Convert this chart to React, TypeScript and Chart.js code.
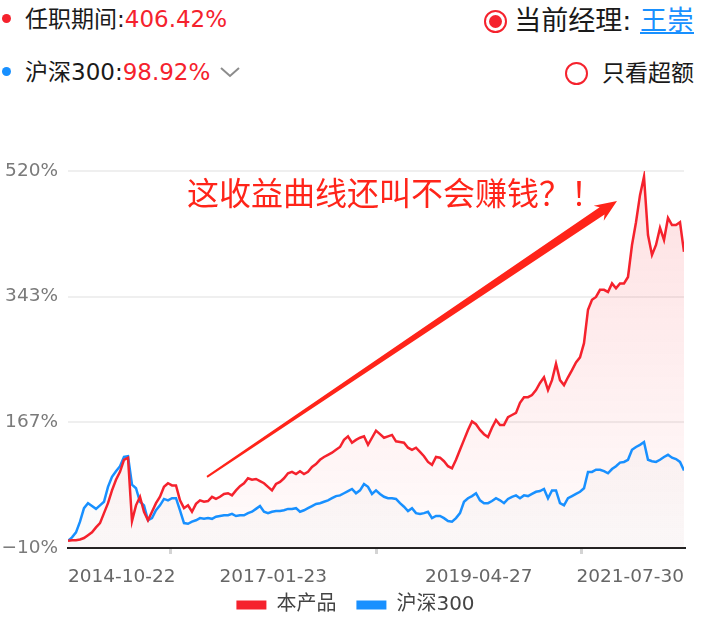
import React, { useEffect, useRef } from "react";
import Chart from "chart.js/auto";

const FONT = "'DejaVu Sans', 'Noto Sans CJK SC', sans-serif";
const CJK = "'Noto Sans CJK SC', sans-serif";
const RED = "#F5222D";
const BLUE = "#1890FF";
const NOTE_RED = "#FF2419";

const seriesNames = ["本产品", "沪深300"];
const xTickLabels = ["2014-10-22", "2017-01-23", "2019-04-27", "2021-07-30"];
const yTickValues = [-10, 166.67, 343.33, 520];
const yTickLabels = ["−10%", "167%", "343%", "520%"];

// cumulative return (%), sampled evenly over the tenure
const productReturns = [
  0, 1, 1, 2, 4, 8, 12, 19, 25, 39, 53, 71, 86, 97, 114, 117, 28, 50, 62, 41,
  29, 41, 53, 62, 76, 81, 78, 78, 57, 46, 50, 41, 52, 57, 55, 56, 62, 59, 62, 66,
  67, 64, 71, 77, 81, 88, 86, 87, 84, 81, 76, 71, 80, 83, 88, 95, 97, 94, 98, 94,
  97, 104, 108, 114, 118, 121, 124, 128, 132, 142, 147, 138, 142, 145, 147, 135, 145, 155, 150, 145,
  147, 149, 140, 139, 138, 131, 128, 131, 125, 119, 111, 107, 118, 117, 112, 105, 102, 114, 128, 142,
  156, 168, 164, 156, 150, 146, 159, 170, 163, 163, 174, 177, 180, 194, 202, 202, 205, 212, 222, 230,
  212, 226, 249, 226, 219, 230, 240, 251, 258, 278, 325, 339, 343, 353, 353, 350, 362, 355, 362, 362,
  371, 416, 448, 486, 512, 430, 402, 416, 440, 423, 454, 444, 444, 448, 406.42,
];
const hs300Returns = [
  0, 5, 12, 27, 46, 53, 49, 45, 50, 55, 76, 90, 98, 105, 118, 119, 79, 74, 55, 50,
  29, 32, 43, 50, 59, 57, 60, 60, 43, 25, 24, 27, 29, 32, 31, 32, 31, 34, 35, 36,
  36, 38, 35, 36, 36, 39, 41, 45, 49, 41, 39, 41, 42, 42, 43, 45, 45, 46, 41, 43,
  46, 49, 52, 53, 55, 57, 60, 63, 64, 67, 70, 73, 67, 71, 80, 76, 66, 71, 66, 62,
  60, 60, 59, 53, 48, 42, 46, 39, 38, 39, 41, 32, 35, 35, 32, 28, 27, 32, 39, 55,
  60, 63, 67, 57, 53, 53, 56, 60, 57, 53, 59, 62, 64, 60, 64, 63, 66, 69, 70, 73,
  60, 71, 71, 53, 50, 60, 63, 66, 69, 74, 97, 97, 100, 100, 98, 95, 101, 105, 110, 111,
  114, 128, 132, 135, 139, 114, 112, 111, 114, 118, 121, 117, 115, 111, 98.92,
];

// annotation anchored in data units: [sample index, return %]
const noteText = "这收益曲线还叫不会赚钱？！";
const noteAnchor = [29.75, 489];
const arrowFrom = [34.75, 90];
const arrowTo = [137.25, 478];

const N = productReturns.length;

const notePlugin = {
  id: "note",
  afterLayout(chart: any) {
    // let the x tick labels extend below the axis box (legend sits close underneath)
    const sx = chart.scales.x;
    if (sx) sx.bottom = chart.height;
  },
  afterDraw(chart: any) {
    const { ctx, scales } = chart;
    const sx = scales.x, sy = scales.y;
    const x0 = sx.getPixelForValue(arrowFrom[0]);
    const y0 = sy.getPixelForValue(arrowFrom[1]);
    const x1 = sx.getPixelForValue(arrowTo[0]);
    const y1 = sy.getPixelForValue(arrowTo[1]);
    const ang = Math.atan2(y1 - y0, x1 - x0);
    const len = Math.hypot(x1 - x0, y1 - y0);
    const headLen = 22, headHalf = 9, w0 = 1, w1 = 4.4;
    ctx.save();
    ctx.translate(x0, y0);
    ctx.rotate(ang);
    ctx.fillStyle = NOTE_RED;
    ctx.beginPath();
    ctx.moveTo(0, -w0);
    ctx.lineTo(len - headLen + 4, -w1);
    ctx.lineTo(len - headLen, -headHalf);
    ctx.lineTo(len, 0);
    ctx.lineTo(len - headLen, headHalf);
    ctx.lineTo(len - headLen + 4, w1);
    ctx.lineTo(0, w0);
    ctx.closePath();
    ctx.fill();
    ctx.restore();

    ctx.save();
    ctx.fillStyle = NOTE_RED;
    ctx.font = `32px ${CJK}`;
    ctx.textBaseline = "middle";
    ctx.textAlign = "left";
    ctx.fillText(noteText, sx.getPixelForValue(noteAnchor[0]), sy.getPixelForValue(noteAnchor[1]));
    ctx.restore();
  },
};

function gradientFill(rgb: string, a0: number, a1: number) {
  return (c: any) => {
    const { chart } = c;
    const area = chart.chartArea;
    if (!area) return `rgba(${rgb},${a1})`;
    const g = chart.ctx.createLinearGradient(0, area.top, 0, area.bottom);
    g.addColorStop(0, `rgba(${rgb},${a0})`);
    g.addColorStop(1, `rgba(${rgb},${a1})`);
    return g;
  };
}

function ReturnChart() {
  const ref = useRef<HTMLCanvasElement>(null);
  useEffect(() => {
    if (!ref.current) return;
    const chart = new Chart(ref.current, {
      type: "line",
      data: {
        datasets: [
          {
            label: seriesNames[0],
            data: productReturns.map((v, i) => ({ x: i, y: v })),
            borderColor: RED,
            borderWidth: 2.5,
            pointRadius: 0,
            tension: 0,
            fill: "start",
            backgroundColor: gradientFill("245,34,45", 0.14, 0.015),
          },
          {
            label: seriesNames[1],
            data: hs300Returns.map((v, i) => ({ x: i, y: v })),
            borderColor: BLUE,
            borderWidth: 2.5,
            pointRadius: 0,
            tension: 0,
            fill: "start",
            backgroundColor: gradientFill("120,120,120", 0.03, 0.03),
          },
        ],
      },
      options: {
        animation: false,
        responsive: false,
        maintainAspectRatio: false,
        layout: { padding: { top: 72, right: 0, left: 0, bottom: 0 } },
        plugins: {
          legend: {
            position: "bottom",
            labels: {
              boxWidth: 30,
              boxHeight: 9,
              padding: 20,
              color: "#444",
              font: { size: 20, family: FONT },
              generateLabels: (ch: any) =>
                (Chart as any).defaults.plugins.legend.labels
                  .generateLabels(ch)
                  .map((l: any) => ({ ...l, fillStyle: l.strokeStyle, lineWidth: 0 })),
            },
          },
          tooltip: { enabled: false },
          filler: { drawTime: "beforeDatasetsDraw" },
        } as any,
        scales: {
          x: {
            type: "linear",
            min: 0,
            max: N - 1,
            afterBuildTicks: (s: any) => {
              const L = N - 1;
              s.ticks = [0, L / 6, L / 3, L / 2, (2 * L) / 3, (5 * L) / 6, L].map((v) => ({ value: v }));
            },
            afterFit: (s: any) => {
              s.height = 27;
            },
            grid: {
              display: true,
              drawOnChartArea: false,
              drawTicks: true,
              tickLength: 6,
              lineWidth: 3,
              color: (c: any) => (c.index % 2 === 1 ? "#d4d4d4" : "rgba(0,0,0,0)"),
            },
            border: { display: true, color: "#222", width: 2 },
            ticks: {
              autoSkip: false,
              maxRotation: 0,
              align: "inner",
              padding: 12,
              color: "#666",
              font: { size: 18.5, family: FONT },
              callback: (_v: any, i: number) => (i % 2 === 0 ? xTickLabels[i / 2] : ""),
            },
          },
          y: {
            type: "linear",
            min: -10,
            max: 520,
            afterBuildTicks: (s: any) => {
              s.ticks = yTickValues.map((v) => ({ value: v }));
            },
            afterFit: (s: any) => {
              s.width = 68;
            },
            grid: {
              drawTicks: false,
              lineWidth: 2,
              color: (c: any) => (c.index === 0 ? "rgba(0,0,0,0)" : "#efefef"),
            },
            border: { display: false },
            ticks: {
              padding: 10,
              color: "#7a7a7a",
              font: { size: 18.5, family: FONT },
              callback: (_v: any, i: number) => yTickLabels[i],
            },
          },
          yRight: {
            type: "linear",
            position: "right",
            min: -10,
            max: 520,
            afterFit: (s: any) => {
              s.width = 27;
            },
            grid: { display: false },
            border: { display: false },
            ticks: { display: false },
          },
        },
      },
      plugins: [notePlugin],
    } as any);
    return () => chart.destroy();
  }, []);
  return (
    <canvas
      ref={ref}
      width={711}
      height={526}
      style={{ position: "absolute", left: 0, top: 99, width: 711, height: 526 }}
    />
  );
}

function Radio({ cx, cy, checked }: { cx: number; cy: number; checked: boolean }) {
  return (
    <div
      style={{
        position: "absolute",
        left: cx - 11.5,
        top: cy - 11.5,
        width: 23,
        height: 23,
        borderRadius: "50%",
        border: `2px solid ${RED}`,
        boxSizing: "border-box",
        display: "flex",
        alignItems: "center",
        justifyContent: "center",
      }}
    >
      {checked && <div style={{ width: 13, height: 13, borderRadius: "50%", background: RED }} />}
    </div>
  );
}

function Dot({ cx, cy, color }: { cx: number; cy: number; color: string }) {
  return (
    <div
      style={{
        position: "absolute",
        left: cx - 4.5,
        top: cy - 4.5,
        width: 9,
        height: 9,
        borderRadius: "50%",
        background: color,
      }}
    />
  );
}

export default function App() {
  const txt: React.CSSProperties = {
    position: "absolute",
    fontSize: 23,
    lineHeight: "24px",
    color: "#1a1a1a",
    whiteSpace: "nowrap",
  };
  return (
    <div
      style={{
        position: "fixed",
        left: 0,
        top: 0,
        width: 711,
        height: 625,
        background: "#fff",
        fontFamily: FONT,
        overflow: "hidden",
      }}
    >
      <Dot cx={6.5} cy={18.5} color={RED} />
      <div style={{ ...txt, left: 25, top: 7 }}>
        任职期间:<span style={{ color: RED }}>406.42%</span>
      </div>
      <Dot cx={6.5} cy={71.5} color={BLUE} />
      <div style={{ ...txt, left: 25, top: 60 }}>
        沪深300:<span style={{ color: RED }}>98.92%</span>
      </div>
      <svg style={{ position: "absolute", left: 218, top: 64 }} width={24} height={16}>
        <polyline points="3,4 12,12 21,4" fill="none" stroke="#8c8c8c" strokeWidth={2} />
      </svg>

      <Radio cx={495} cy={21} checked />
      <div style={{ ...txt, fontSize: 27, lineHeight: "28px", right: 17, top: 7 }}>
        当前经理: <span style={{ color: BLUE, textDecoration: "underline" }}>王崇</span>
      </div>
      <Radio cx={576} cy={73} checked={false} />
      <div style={{ ...txt, right: 17, top: 61 }}>只看超额</div>

      <ReturnChart />
    </div>
  );
}
